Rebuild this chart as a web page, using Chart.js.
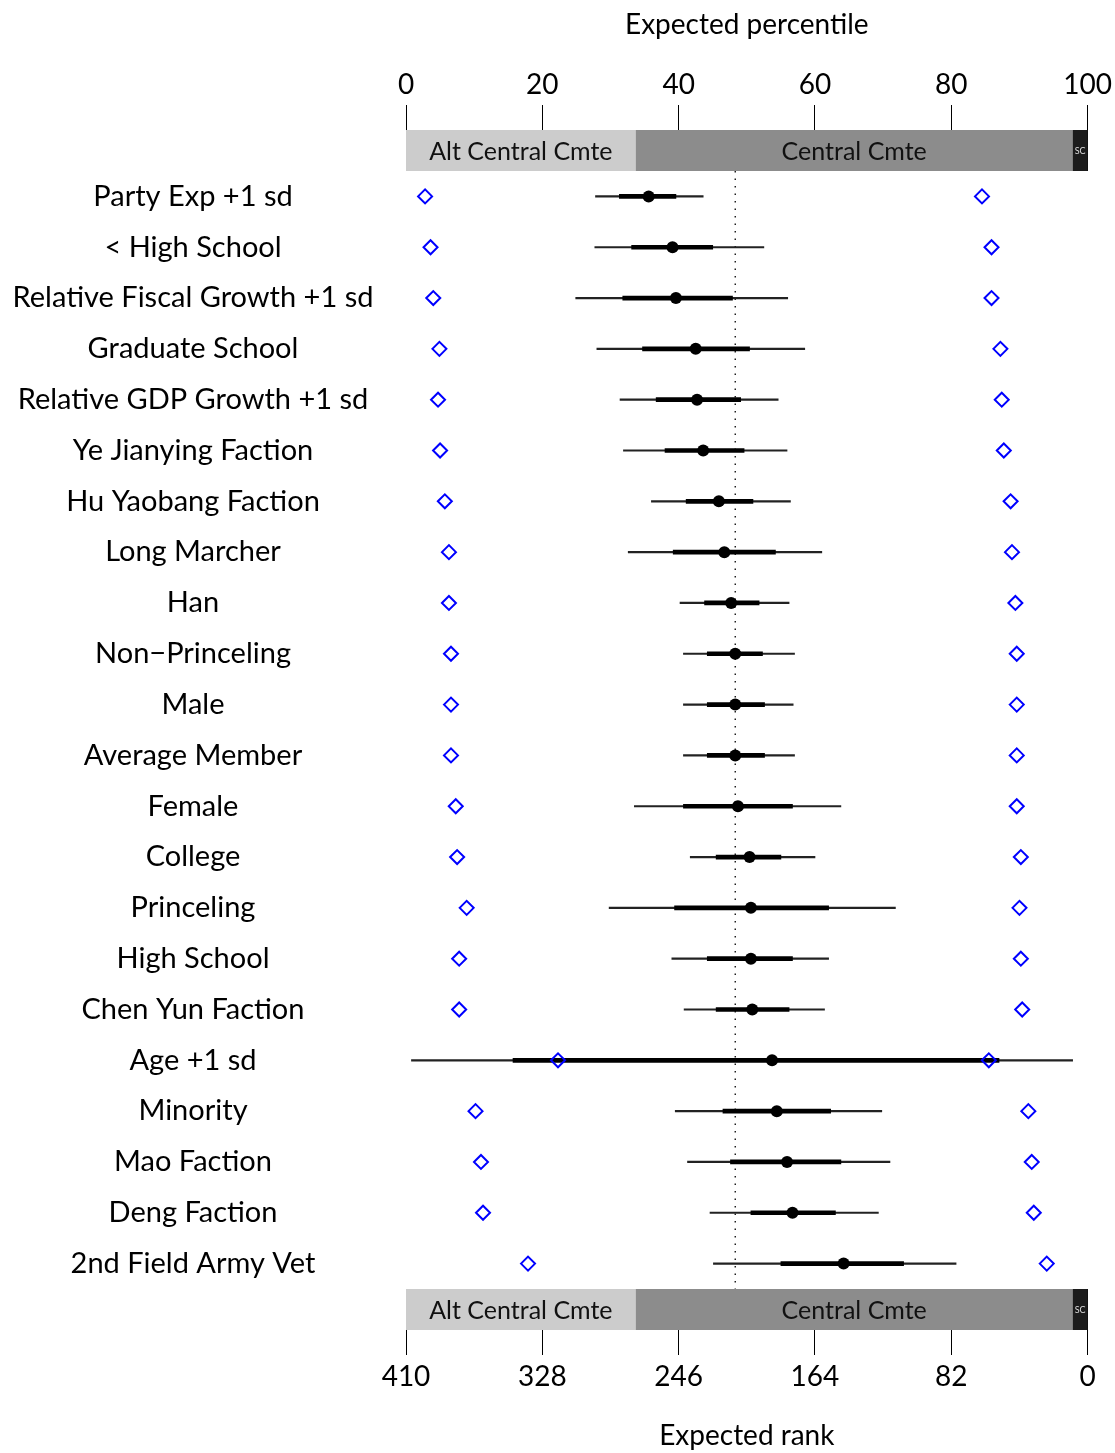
<!DOCTYPE html>
<html>
<head>
<meta charset="utf-8">
<script src="https://cdn.jsdelivr.net/npm/chart.js@4.4.0/dist/chart.umd.min.js"></script>
<style>
  body { margin: 0; background: #fff; }
  #wrap { width: 1115px; height: 1453px; }
</style>
</head>
<body>
<div id="wrap"><canvas id="ranks"></canvas></div>
<script>
const rowLabels = ['Party Exp +1 sd', '< High School', 'Relative Fiscal Growth +1 sd', 'Graduate School',
  'Relative GDP Growth +1 sd', 'Ye Jianying Faction', 'Hu Yaobang Faction', 'Long Marcher', 'Han',
  'Non\u2212Princeling', 'Male', 'Average Member', 'Female', 'College', 'Princeling', 'High School',
  'Chen Yun Faction', 'Age +1 sd', 'Minority', 'Mao Faction', 'Deng Faction', '2nd Field Army Vet'];

// expected percentile, median and intervals
const median = [35.6, 39.1, 39.6, 42.5, 42.7, 43.6, 45.9, 46.7, 47.7, 48.3, 48.3, 48.3, 48.7, 50.4, 50.6, 50.6, 50.8, 53.7, 54.4, 55.9, 56.7, 64.2];
const lo95 = [27.8, 27.7, 24.9, 28.0, 31.4, 31.9, 36.0, 32.6, 40.2, 40.7, 40.7, 40.7, 33.5, 41.7, 29.8, 39.0, 40.8, 0.8, 39.5, 41.3, 44.6, 45.1];
const hi95 = [43.6, 52.5, 56.0, 58.5, 54.6, 55.9, 56.4, 61.0, 56.2, 57.0, 56.8, 57.0, 63.8, 60.0, 71.8, 62.0, 61.4, 97.8, 69.8, 71.0, 69.3, 80.7];
const lo50 = [31.3, 33.1, 31.8, 34.7, 36.7, 38.0, 41.1, 39.2, 43.8, 44.2, 44.2, 44.2, 40.7, 45.5, 39.4, 44.2, 45.5, 15.7, 46.5, 47.6, 50.6, 55.0];
const hi50 = [39.6, 45.0, 47.9, 50.4, 49.1, 49.6, 50.9, 54.2, 51.8, 52.3, 52.6, 52.6, 56.7, 55.0, 62.0, 56.7, 56.2, 87.0, 62.3, 63.8, 63.0, 73.0];
const diamondLo = [2.8, 3.6, 4.0, 4.9, 4.7, 5.0, 5.7, 6.3, 6.3, 6.6, 6.6, 6.6, 7.3, 7.5, 8.9, 7.8, 7.8, 22.3, 10.2, 11.0, 11.3, 17.9];
const diamondHi = [84.5, 85.9, 85.9, 87.2, 87.4, 87.7, 88.7, 88.9, 89.4, 89.6, 89.6, 89.6, 89.6, 90.2, 90.0, 90.2, 90.4, 85.5, 91.3, 91.8, 92.1, 94.0];

const refPercentile = 48.3;
const totalRank = 410;
const rankTicks = [410, 328, 246, 164, 82, 0];

const bandNames = ['Alt Central Cmte', 'Central Cmte', 'SC'];
const bandStart = [0, 33.7, 97.8];
const bandEnd = [33.7, 97.8, 100];

const FONT = 'Lato';
const bandColors = ['#cccccc', '#8c8c8c', '#1c1c1c'];
const bandTextColors = ['#111', '#111', '#ddd'];

// centre the row labels around x=193 like the original
const mctx = document.createElement('canvas').getContext('2d');
mctx.font = '29px ' + FONT;
const widest = Math.max(...rowLabels.map(l => mctx.measureText(l).width));
const yPad = 406 - 193 - widest / 2;

const pts = vals => vals.map((v, i) => ({ x: v, y: rowLabels[i] }));

const bandsPlugin = {
  id: 'bands',
  beforeDatasetsDraw(chart) {
    const { ctx, chartArea, scales } = chart;
    const px = scales.x.getPixelForValue(refPercentile);
    ctx.save();
    ctx.strokeStyle = '#000';
    ctx.lineWidth = 1.3;
    ctx.setLineDash([1.5, 6]);
    ctx.beginPath();
    ctx.moveTo(px, chartArea.top);
    ctx.lineTo(px, chartArea.bottom);
    ctx.stroke();
    ctx.restore();
  },
  afterDraw(chart) {
    const { ctx, chartArea, scales } = chart;
    const h = 41;
    [chartArea.top - h, chartArea.bottom].forEach(top => {
      bandNames.forEach((name, i) => {
        const x0 = scales.x.getPixelForValue(bandStart[i]);
        const x1 = scales.x.getPixelForValue(bandEnd[i]);
        ctx.fillStyle = bandColors[i];
        ctx.fillRect(x0, top, x1 - x0, h);
        ctx.fillStyle = bandTextColors[i];
        ctx.font = (name === 'SC' ? '9px ' : '25px ') + FONT;
        ctx.textAlign = 'center';
        ctx.textBaseline = 'middle';
        ctx.fillText(name, (x0 + x1) / 2, top + h / 2 + 1);
      });
    });
  }
};

const ctx = document.getElementById('ranks').getContext('2d');
new Chart(ctx, {
  type: 'bar',
  data: {
    labels: rowLabels,
    datasets: [{
      type: 'scatter',
      data: pts(diamondLo),
      pointStyle: 'rectRot',
      radius: 7,
      borderColor: '#0000ff',
      borderWidth: 2,
      backgroundColor: 'rgba(0,0,0,0)',
      xAxisID: 'x', yAxisID: 'y'
    }, {
      type: 'scatter',
      data: pts(diamondHi),
      pointStyle: 'rectRot',
      radius: 7,
      borderColor: '#0000ff',
      borderWidth: 2,
      backgroundColor: 'rgba(0,0,0,0)',
      xAxisID: 'x', yAxisID: 'y'
    }, {
      type: 'scatter',
      data: pts(median),
      pointStyle: 'circle',
      radius: 6,
      borderWidth: 0,
      backgroundColor: '#000',
      xAxisID: 'x', yAxisID: 'y'
    }, {
      indexAxis: 'y',
      data: lo50.map((v, i) => [v, hi50[i]]),
      backgroundColor: '#000',
      barThickness: 4,
      grouped: false,
      xAxisID: 'x', yAxisID: 'y'
    }, {
      indexAxis: 'y',
      data: lo95.map((v, i) => [v, hi95[i]]),
      backgroundColor: '#222',
      barThickness: 1.5,
      grouped: false,
      xAxisID: 'x', yAxisID: 'y'
    }]
  },
  options: {
    responsive: true,
    maintainAspectRatio: false,
    animation: false,
    events: [],
    layout: { padding: { top: 0, right: 26, bottom: 0, left: 0 } },
    plugins: {
      legend: { display: false },
      tooltip: { enabled: false }
    },
    scales: {
      x: {
        type: 'linear',
        position: 'top',
        offset: false,
        min: 0, max: 100,
        ticks: { stepSize: 20, padding: 3, color: '#000', font: { family: FONT, size: 28 } },
        grid: { offset: false, drawOnChartArea: false, drawTicks: true, tickLength: 66, color: '#000', lineWidth: 1 },
        border: { display: false },
        title: { display: true, text: 'Expected percentile', color: '#000',
          font: { family: FONT, size: 28 }, padding: { top: 8, bottom: 0 } },
        afterFit: s => { s.height = 171; }
      },
      x2: {
        type: 'linear',
        position: 'bottom',
        offset: false,
        min: 0, max: totalRank,
        reverse: true,
        afterBuildTicks: s => { s.ticks = rankTicks.map(v => ({ value: v })); },
        ticks: { padding: 5, color: '#000', font: { family: FONT, size: 28 } },
        grid: { offset: false, drawOnChartArea: false, drawTicks: true, tickLength: 66, color: '#000', lineWidth: 1 },
        border: { display: false },
        title: { display: true, text: 'Expected rank', color: '#000',
          font: { family: FONT, size: 28 }, padding: { top: 0, bottom: 0 } },
        afterFit: s => { s.height = 1453 - 1289; }
      },
      y: {
        type: 'category',
        labels: rowLabels,
        offset: true,
        ticks: { crossAlign: 'center', padding: yPad, color: '#000', font: { family: FONT, size: 29 } },
        grid: { display: false, drawTicks: false },
        border: { display: false },
        afterFit: s => { s.width = 406; }
      }
    }
  },
  plugins: [bandsPlugin]
});
</script>
</body>
</html>
